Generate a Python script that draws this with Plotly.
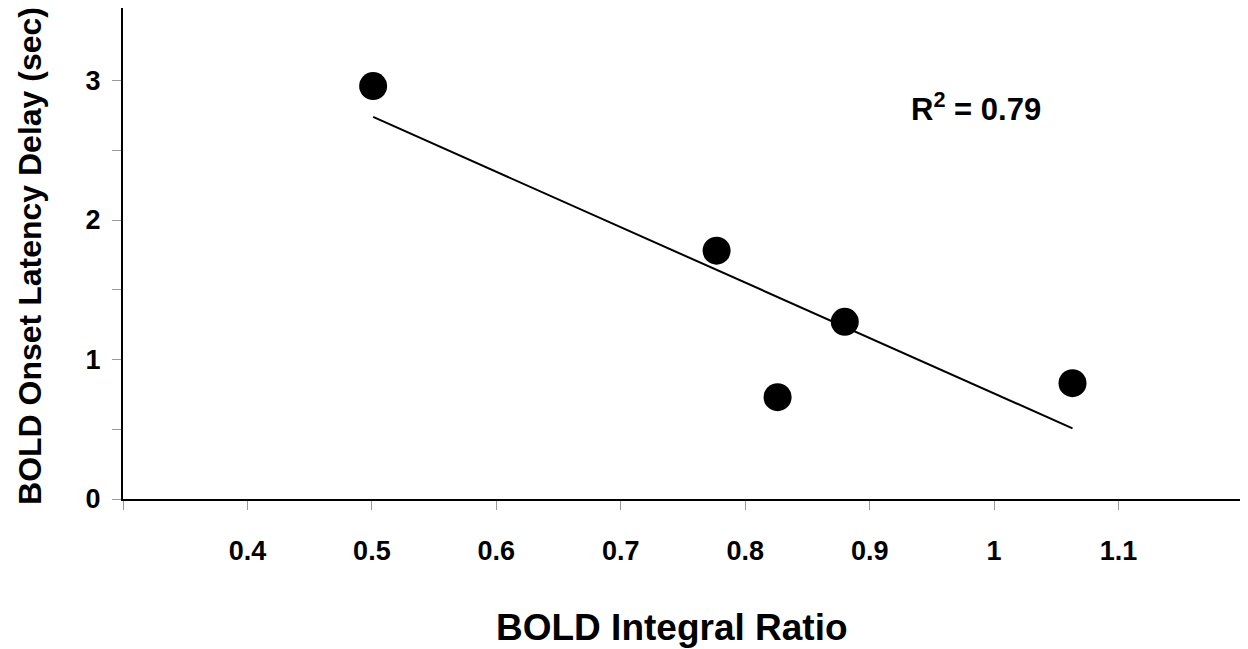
import numpy as np
import plotly.graph_objects as go

# Data
integral_ratio = [0.501, 0.777, 0.880, 0.826, 1.063]
onset_delay = [2.96, 1.78, 1.27, 0.73, 0.83]

x_tick_vals = [0.3, 0.4, 0.5, 0.6, 0.7, 0.8, 0.9, 1.0, 1.1, 1.2]
x_tick_text = ["", "0.4", "0.5", "0.6", "0.7", "0.8", "0.9", "1", "1.1", ""]
y_tick_vals = [0, 0.5, 1, 1.5, 2, 2.5, 3]
y_tick_text = ["0", "", "1", "", "2", "", "3"]

x_title = "BOLD Integral Ratio"
y_title = "BOLD Onset Latency Delay (sec)"
r2_label = "R<sup>2</sup> = 0.79"

# Linear fit from the data
xa = np.array(integral_ratio)
ya = np.array(onset_delay)
slope, intercept = np.polyfit(xa, ya, 1)
fit_x = [xa.min(), xa.max()]
fit_y = [slope * v + intercept for v in fit_x]

FONT = "Liberation Sans, Arial, sans-serif"

fig = go.Figure()
fig.add_trace(go.Scatter(x=fit_x, y=fit_y, mode="lines",
                         line=dict(color="black", width=2), showlegend=False,
                         hoverinfo="skip"))
fig.add_trace(go.Scatter(x=integral_ratio, y=onset_delay, mode="markers",
                         marker=dict(color="black", size=28, line=dict(width=0)),
                         showlegend=False))

fig.add_annotation(x=0.9857, y=2.81, xref="x", yref="y", text="<b>" + r2_label + "</b>",
                   showarrow=False, font=dict(family=FONT, size=31, color="black"))
fig.add_annotation(x=0.490, y=0, xref="paper", yref="paper", yshift=-128,
                   xanchor="center", yanchor="middle", showarrow=False,
                   text="<b>" + x_title + "</b>",
                   font=dict(family=FONT, size=37, color="black"))
fig.add_annotation(x=0, y=0.495, xref="paper", yref="paper", xshift=-93,
                   xanchor="center", yanchor="middle", showarrow=False, textangle=-90,
                   text="<b>" + y_title + "</b>",
                   font=dict(family=FONT, size=32, color="black"))

fig.update_layout(
    width=1240, height=641,
    margin=dict(l=115, r=5, t=0, b=150, autoexpand=False),
    paper_bgcolor="white", plot_bgcolor="white",
    font=dict(family=FONT, color="black"),
)
fig.update_xaxes(
    range=[0.3, 1.2], tickvals=x_tick_vals, ticktext=x_tick_text,
    showgrid=False, zeroline=False, showline=True, linecolor="black", linewidth=2,
    ticks="outside", ticklen=9, tickwidth=1, tickcolor="#999999",
    ticklabelstandoff=18, automargin=False,
    tickfont=dict(family=FONT, size=27, color="black", weight="bold"),
)
fig.update_yaxes(
    range=[0, 3.52], tickvals=y_tick_vals, ticktext=y_tick_text,
    showgrid=False, zeroline=False, showline=True, linecolor="black", linewidth=2,
    ticks="outside", ticklen=9, tickwidth=1, tickcolor="#999999",
    ticklabelstandoff=6, automargin=False,
    tickfont=dict(family=FONT, size=27, color="black", weight="bold"),
)

fig.write_html("out.html")
